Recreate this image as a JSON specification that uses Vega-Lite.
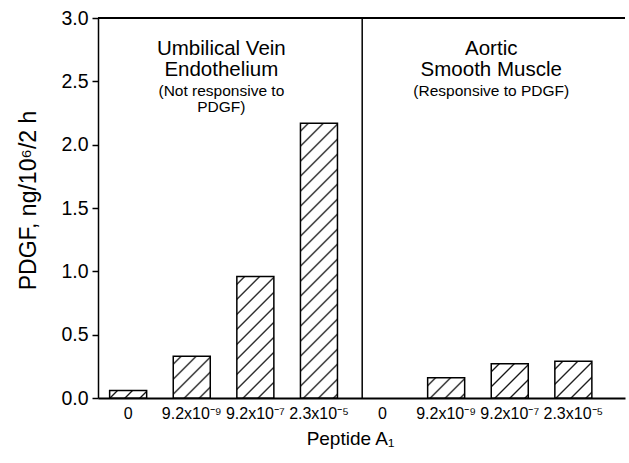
{
  "$schema": "https://vega.github.io/schema/vega-lite/v6.json",
  "width": 527,
  "height": 380,
  "autosize": {"type": "none"},
  "padding": {"left": 98, "top": 18, "right": 4, "bottom": 65},
  "background": "white",
  "config": {
    "view": {"stroke": null},
    "font": "Liberation Sans",
    "axis": {"labelColor": "black", "titleColor": "black", "domainColor": "black", "tickColor": "black", "grid": false, "labelFont": "Liberation Sans", "titleFont": "Liberation Sans", "titleFontWeight": "normal"}
  },
  "data": {
    "values": [
      {"panel": "Umbilical Vein Endothelium", "id": "L0", "key": "L|0", "concentration": "0", "pdgf": 0.06},
      {"panel": "Umbilical Vein Endothelium", "id": "L1", "key": "L|9.2x10⁻⁹", "concentration": "9.2x10⁻⁹", "pdgf": 0.33},
      {"panel": "Umbilical Vein Endothelium", "id": "L2", "key": "L|9.2x10⁻⁷", "concentration": "9.2x10⁻⁷", "pdgf": 0.96},
      {"panel": "Umbilical Vein Endothelium", "id": "L3", "key": "L|2.3x10⁻⁵", "concentration": "2.3x10⁻⁵", "pdgf": 2.17},
      {"panel": "Aortic Smooth Muscle", "id": "R0", "key": "R|0", "concentration": "0", "pdgf": 0},
      {"panel": "Aortic Smooth Muscle", "id": "R1", "key": "R|9.2x10⁻⁹", "concentration": "9.2x10⁻⁹", "pdgf": 0.16},
      {"panel": "Aortic Smooth Muscle", "id": "R2", "key": "R|9.2x10⁻⁷", "concentration": "9.2x10⁻⁷", "pdgf": 0.27},
      {"panel": "Aortic Smooth Muscle", "id": "R3", "key": "R|2.3x10⁻⁵", "concentration": "2.3x10⁻⁵", "pdgf": 0.29}
    ]
  },
  "layer": [
    {
      "encoding": {
        "x": {
          "field": "key",
          "type": "nominal",
          "sort": null,
          "scale": {
            "type": "band",
            "domain": ["L|0", "L|9.2x10⁻⁹", "L|9.2x10⁻⁷", "L|2.3x10⁻⁵", "R|0", "R|9.2x10⁻⁹", "R|9.2x10⁻⁷", "R|2.3x10⁻⁵"],
            "paddingInner": 0.418,
            "paddingOuter": 0.352,
            "align": 0.26
          },
          "axis": {
            "labelExpr": "split(datum.value, '|')[1]",
            "labelAngle": 0,
            "labelFontSize": 16,
            "labelPadding": 7,
            "ticks": false,
            "tickSize": 0,
            "domainWidth": 2,
            "title": "Peptide A₁",
            "titleFontSize": 19,
            "titleX": 252,
            "titleY": 46,
            "titleBaseline": "alphabetic",
            "titleAlign": "center"
          }
        },
        "y": {
          "field": "pdgf",
          "type": "quantitative",
          "scale": {"domain": [0, 3], "nice": false, "zero": true},
          "axis": {
            "values": [0, 0.5, 1, 1.5, 2, 2.5, 3],
            "format": ".1f",
            "labelFontSize": 19.5,
            "labelPadding": 4,
            "tickSize": 6,
            "tickWidth": 1.5,
            "domainWidth": 1.5,
            "title": "PDGF, ng/10⁶/2 h",
            "titleFontSize": 23,
            "titleX": -70,
            "titleY": 182,
            "titleAngle": -90,
            "titleAlign": "center",
            "titleBaseline": "middle"
          }
        }
      },
      "layer": [
        {
          "transform": [{"filter": "datum.id === 'L0'"}],
          "mark": {"type": "bar", "stroke": "black", "strokeWidth": 1.5, "fill": {"gradient": "linear", "x1": 0, "y1": 0, "x2": 1.1565, "y2": 0.2374, "stops": [
            {"offset": 0.1390, "color": "white"}, {"offset": 0.1793, "color": "#111"}, {"offset": 0.2196, "color": "white"},
            {"offset": 0.4751, "color": "white"}, {"offset": 0.5155, "color": "#111"}, {"offset": 0.5558, "color": "white"},
            {"offset": 0.8113, "color": "white"}, {"offset": 0.8516, "color": "#111"}, {"offset": 0.8920, "color": "white"}
          ]}}
        },
        {
          "transform": [{"filter": "datum.id === 'L1'"}],
          "mark": {"type": "bar", "stroke": "black", "strokeWidth": 1.5, "fill": {"gradient": "linear", "x1": 0, "y1": 0, "x2": 0.9359, "y2": 1.0568, "stops": [
            {"offset": 0.0787, "color": "white"}, {"offset": 0.1015, "color": "#111"}, {"offset": 0.1243, "color": "white"},
            {"offset": 0.2690, "color": "white"}, {"offset": 0.2918, "color": "#111"}, {"offset": 0.3146, "color": "white"},
            {"offset": 0.4593, "color": "white"}, {"offset": 0.4821, "color": "#111"}, {"offset": 0.5050, "color": "white"},
            {"offset": 0.6496, "color": "white"}, {"offset": 0.6724, "color": "#111"}, {"offset": 0.6953, "color": "white"},
            {"offset": 0.8399, "color": "white"}, {"offset": 0.8627, "color": "#111"}, {"offset": 0.8856, "color": "white"}
          ]}}
        },
        {
          "transform": [{"filter": "datum.id === 'L2'"}],
          "mark": {"type": "bar", "stroke": "black", "strokeWidth": 1.5, "fill": {"gradient": "linear", "x1": 0, "y1": 0, "x2": 0.3634, "y2": 1.1938, "stops": [
            {"offset": 0.0391, "color": "white"}, {"offset": 0.0504, "color": "#111"}, {"offset": 0.0618, "color": "white"},
            {"offset": 0.1337, "color": "white"}, {"offset": 0.1450, "color": "#111"}, {"offset": 0.1563, "color": "white"},
            {"offset": 0.2282, "color": "white"}, {"offset": 0.2396, "color": "#111"}, {"offset": 0.2509, "color": "white"},
            {"offset": 0.3228, "color": "white"}, {"offset": 0.3341, "color": "#111"}, {"offset": 0.3455, "color": "white"},
            {"offset": 0.4173, "color": "white"}, {"offset": 0.4287, "color": "#111"}, {"offset": 0.4400, "color": "white"},
            {"offset": 0.5119, "color": "white"}, {"offset": 0.5233, "color": "#111"}, {"offset": 0.5346, "color": "white"},
            {"offset": 0.6065, "color": "white"}, {"offset": 0.6178, "color": "#111"}, {"offset": 0.6292, "color": "white"},
            {"offset": 0.7010, "color": "white"}, {"offset": 0.7124, "color": "#111"}, {"offset": 0.7237, "color": "white"},
            {"offset": 0.7956, "color": "white"}, {"offset": 0.8070, "color": "#111"}, {"offset": 0.8183, "color": "white"},
            {"offset": 0.8902, "color": "white"}, {"offset": 0.9015, "color": "#111"}, {"offset": 0.9129, "color": "white"}
          ]}}
        },
        {
          "transform": [{"filter": "datum.id === 'L3'"}],
          "mark": {"type": "bar", "stroke": "black", "strokeWidth": 1.5, "fill": {"gradient": "linear", "x1": 0, "y1": 0, "x2": 0.1501, "y2": 1.1145, "stops": [
            {"offset": 0.0199, "color": "white"}, {"offset": 0.0257, "color": "#111"}, {"offset": 0.0314, "color": "white"},
            {"offset": 0.0680, "color": "white"}, {"offset": 0.0737, "color": "#111"}, {"offset": 0.0795, "color": "white"},
            {"offset": 0.1161, "color": "white"}, {"offset": 0.1218, "color": "#111"}, {"offset": 0.1276, "color": "white"},
            {"offset": 0.1642, "color": "white"}, {"offset": 0.1699, "color": "#111"}, {"offset": 0.1757, "color": "white"},
            {"offset": 0.2123, "color": "white"}, {"offset": 0.2180, "color": "#111"}, {"offset": 0.2238, "color": "white"},
            {"offset": 0.2604, "color": "white"}, {"offset": 0.2661, "color": "#111"}, {"offset": 0.2719, "color": "white"},
            {"offset": 0.3084, "color": "white"}, {"offset": 0.3142, "color": "#111"}, {"offset": 0.3200, "color": "white"},
            {"offset": 0.3565, "color": "white"}, {"offset": 0.3623, "color": "#111"}, {"offset": 0.3681, "color": "white"},
            {"offset": 0.4046, "color": "white"}, {"offset": 0.4104, "color": "#111"}, {"offset": 0.4162, "color": "white"},
            {"offset": 0.4527, "color": "white"}, {"offset": 0.4585, "color": "#111"}, {"offset": 0.4643, "color": "white"},
            {"offset": 0.5008, "color": "white"}, {"offset": 0.5066, "color": "#111"}, {"offset": 0.5124, "color": "white"},
            {"offset": 0.5489, "color": "white"}, {"offset": 0.5547, "color": "#111"}, {"offset": 0.5605, "color": "white"},
            {"offset": 0.5970, "color": "white"}, {"offset": 0.6028, "color": "#111"}, {"offset": 0.6085, "color": "white"},
            {"offset": 0.6451, "color": "white"}, {"offset": 0.6509, "color": "#111"}, {"offset": 0.6566, "color": "white"},
            {"offset": 0.6932, "color": "white"}, {"offset": 0.6990, "color": "#111"}, {"offset": 0.7047, "color": "white"},
            {"offset": 0.7413, "color": "white"}, {"offset": 0.7471, "color": "#111"}, {"offset": 0.7528, "color": "white"},
            {"offset": 0.7894, "color": "white"}, {"offset": 0.7952, "color": "#111"}, {"offset": 0.8009, "color": "white"},
            {"offset": 0.8375, "color": "white"}, {"offset": 0.8433, "color": "#111"}, {"offset": 0.8490, "color": "white"},
            {"offset": 0.8856, "color": "white"}, {"offset": 0.8913, "color": "#111"}, {"offset": 0.8971, "color": "white"},
            {"offset": 0.9337, "color": "white"}, {"offset": 0.9394, "color": "#111"}, {"offset": 0.9452, "color": "white"},
            {"offset": 0.9818, "color": "white"}, {"offset": 0.9875, "color": "#111"}, {"offset": 0.9933, "color": "white"}
          ]}}
        },
        {
          "transform": [{"filter": "datum.id === 'R1'"}],
          "mark": {"type": "bar", "stroke": "black", "strokeWidth": 1.5, "fill": {"gradient": "linear", "x1": 0, "y1": 0, "x2": 1.1906, "y2": 0.6519, "stops": [
            {"offset": 0.1082, "color": "white"}, {"offset": 0.1396, "color": "#111"}, {"offset": 0.1711, "color": "white"},
            {"offset": 0.3700, "color": "white"}, {"offset": 0.4015, "color": "#111"}, {"offset": 0.4329, "color": "white"},
            {"offset": 0.6319, "color": "white"}, {"offset": 0.6633, "color": "#111"}, {"offset": 0.6947, "color": "white"},
            {"offset": 0.8937, "color": "white"}, {"offset": 0.9251, "color": "#111"}, {"offset": 0.9565, "color": "white"}
          ]}}
        },
        {
          "transform": [{"filter": "datum.id === 'R2'"}],
          "mark": {"type": "bar", "stroke": "black", "strokeWidth": 1.5, "fill": {"gradient": "linear", "x1": 0, "y1": 0, "x2": 1.0380, "y2": 0.9589, "stops": [
            {"offset": 0.0871, "color": "white"}, {"offset": 0.1123, "color": "#111"}, {"offset": 0.1376, "color": "white"},
            {"offset": 0.2977, "color": "white"}, {"offset": 0.3229, "color": "#111"}, {"offset": 0.3482, "color": "white"},
            {"offset": 0.5083, "color": "white"}, {"offset": 0.5336, "color": "#111"}, {"offset": 0.5588, "color": "white"},
            {"offset": 0.7189, "color": "white"}, {"offset": 0.7442, "color": "#111"}, {"offset": 0.7694, "color": "white"},
            {"offset": 0.9295, "color": "white"}, {"offset": 0.9548, "color": "#111"}, {"offset": 0.9801, "color": "white"}
          ]}}
        },
        {
          "transform": [{"filter": "datum.id === 'R3'"}],
          "mark": {"type": "bar", "stroke": "black", "strokeWidth": 1.5, "fill": {"gradient": "linear", "x1": 0, "y1": 0, "x2": 1.0039, "y2": 0.9960, "stops": [
            {"offset": 0.0841, "color": "white"}, {"offset": 0.1085, "color": "#111"}, {"offset": 0.1329, "color": "white"},
            {"offset": 0.2875, "color": "white"}, {"offset": 0.3119, "color": "#111"}, {"offset": 0.3363, "color": "white"},
            {"offset": 0.4908, "color": "white"}, {"offset": 0.5153, "color": "#111"}, {"offset": 0.5396, "color": "white"},
            {"offset": 0.6942, "color": "white"}, {"offset": 0.7186, "color": "#111"}, {"offset": 0.7430, "color": "white"},
            {"offset": 0.8976, "color": "white"}, {"offset": 0.9220, "color": "#111"}, {"offset": 0.9464, "color": "white"}
          ]}}
        }
      ]
    },
    {
      "data": {"values": [{}]},
      "mark": {"type": "rule", "stroke": "black", "strokeWidth": 2},
      "encoding": {"y": {"datum": 3, "type": "quantitative"}}
    },
    {
      "data": {"values": [{}]},
      "mark": {"type": "rule", "stroke": "black", "strokeWidth": 1.5},
      "encoding": {"x": {"datum": "R|0", "type": "nominal", "bandPosition": -0.05}}
    },
    {
      "data": {"values": [{}]},
      "mark": {"type": "text", "align": "center", "baseline": "alphabetic", "fontSize": 20.5, "lineHeight": 21.5, "font": "Liberation Sans", "color": "black"},
      "encoding": {
        "x": {"datum": "L|9.2x10⁻⁹", "type": "nominal", "bandPosition": 1.3},
        "y": {"datum": 2.71, "type": "quantitative"},
        "text": {"value": ["Umbilical Vein", "Endothelium"]}
      }
    },
    {
      "data": {"values": [{}]},
      "mark": {"type": "text", "align": "center", "baseline": "alphabetic", "fontSize": 15.5, "lineHeight": 16, "font": "Liberation Sans", "color": "black"},
      "encoding": {
        "x": {"datum": "L|9.2x10⁻⁹", "type": "nominal", "bandPosition": 1.3},
        "y": {"datum": 2.385, "type": "quantitative"},
        "text": {"value": ["(Not responsive to", "PDGF)"]}
      }
    },
    {
      "data": {"values": [{}]},
      "mark": {"type": "text", "align": "center", "baseline": "alphabetic", "fontSize": 20.5, "lineHeight": 21.5, "font": "Liberation Sans", "color": "black"},
      "encoding": {
        "x": {"datum": "R|9.2x10⁻⁷", "type": "nominal", "bandPosition": 0},
        "y": {"datum": 2.71, "type": "quantitative"},
        "text": {"value": ["Aortic", "Smooth Muscle"]}
      }
    },
    {
      "data": {"values": [{}]},
      "mark": {"type": "text", "align": "center", "baseline": "alphabetic", "fontSize": 15.5, "lineHeight": 16, "font": "Liberation Sans", "color": "black"},
      "encoding": {
        "x": {"datum": "R|9.2x10⁻⁷", "type": "nominal", "bandPosition": 0},
        "y": {"datum": 2.385, "type": "quantitative"},
        "text": {"value": ["(Responsive to PDGF)"]}
      }
    }
  ]
}
